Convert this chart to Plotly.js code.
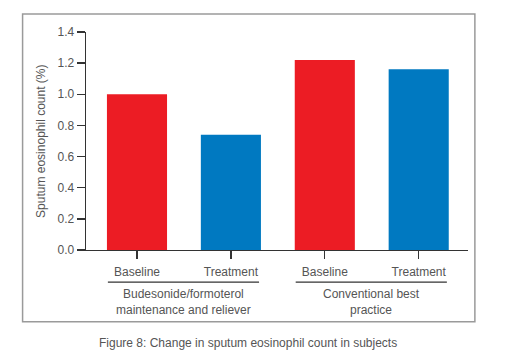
<!DOCTYPE html>
<html>
<head>
<meta charset="utf-8">
<script src="https://cdn.plot.ly/plotly-3.0.1.min.js"></script>
<style>
html,body{margin:0;padding:0;background:#fff;}
#chart{width:514px;height:362px;}
</style>
</head>
<body>
<div id="chart"></div>
<script>
// Data
var barLabels = ["Baseline", "Treatment", "Baseline", "Treatment"];
var values = [1.00, 0.74, 1.22, 1.16];
var barColors = ["#ec1c24", "#0079c1", "#ec1c24", "#0079c1"];
var groupNames = ["Budesonide/formoterol<br>maintenance and reliever", "Conventional best<br>practice"];
var groupMembers = [[0, 1], [2, 3]];
var yTickVals = [0, 0.2, 0.4, 0.6, 0.8, 1.0, 1.2, 1.4];
var yTickText = ["0.0", "0.2", "0.4", "0.6", "0.8", "1.0", "1.2", "1.4"];
var yTitle = "Sputum eosinophil count (%)";
var caption = "Figure 8: Change in sputum eosinophil count in subjects";

var xIdx = barLabels.map(function(_, i){ return i; });
var textColor = "#555555";
var fontFam = "Liberation Sans, Arial, Helvetica, sans-serif";

var trace = {
  type: "bar",
  x: xIdx,
  y: values,
  width: 0.64,
  marker: {color: barColors, line: {width: 0}},
  hoverinfo: "y"
};

var shapes = [];
var annotations = [];
// group underlines and labels
groupMembers.forEach(function(m, g){
  var a = m[0], b = m[m.length - 1];
  shapes.push({type: "line", xref: "x", yref: "paper",
    x0: a - 0.31, x1: b + 0.30, y0: -0.147, y1: -0.147,
    line: {color: "#333333", width: 1.3}});
  annotations.push({xref: "x", yref: "paper", x: (a + b) / 2, y: -0.2385,
    xanchor: "center", yanchor: "middle", showarrow: false,
    text: groupNames[g], font: {family: fontFam, size: 12, color: textColor}});
});
// frame
shapes.push({type: "rect", xref: "paper", yref: "paper",
  x0: -0.166, x1: 1.018, y0: -0.329, y1: 1.0826,
  line: {color: "#9a9a9a", width: 1.5}, fillcolor: "rgba(0,0,0,0)"});
// y title
annotations.push({xref: "paper", yref: "paper", x: -0.118, y: 0.5,
  xanchor: "center", yanchor: "middle", textangle: -90, showarrow: false,
  text: yTitle, font: {family: fontFam, size: 12, color: textColor}});
// caption
annotations.push({xref: "paper", yref: "paper", x: 0.425, y: -0.4266,
  xanchor: "center", yanchor: "middle", showarrow: false,
  text: caption, font: {family: fontFam, size: 12, color: textColor}});

var layout = {
  width: 514, height: 362,
  margin: {l: 86, r: 46, t: 32, b: 112, pad: 0},
  paper_bgcolor: "#ffffff", plot_bgcolor: "#ffffff",
  showlegend: false,
  font: {family: fontFam, size: 12, color: textColor},
  xaxis: {
    range: [-0.543, 3.525], tickmode: "array", tickvals: xIdx, ticktext: barLabels,
    showgrid: false, zeroline: false, showline: true, linecolor: "#333333", linewidth: 1.3,
    ticks: "outside", ticklen: 8, tickwidth: 1.3, tickcolor: "#333333",
    ticklabelstandoff: 2,
    tickfont: {family: fontFam, size: 12, color: textColor}, fixedrange: true
  },
  yaxis: {
    range: [0, 1.4], tickmode: "array", tickvals: yTickVals, ticktext: yTickText,
    showgrid: false, zeroline: false, showline: true, linecolor: "#333333", linewidth: 1.3,
    ticks: "outside", ticklen: 8, tickwidth: 1.3, tickcolor: "#333333",
    tickfont: {family: fontFam, size: 12, color: textColor}, fixedrange: true
  },
  shapes: shapes,
  annotations: annotations
};

Plotly.newPlot("chart", [trace], layout, {displayModeBar: false, staticPlot: true});
</script>
</body>
</html>
